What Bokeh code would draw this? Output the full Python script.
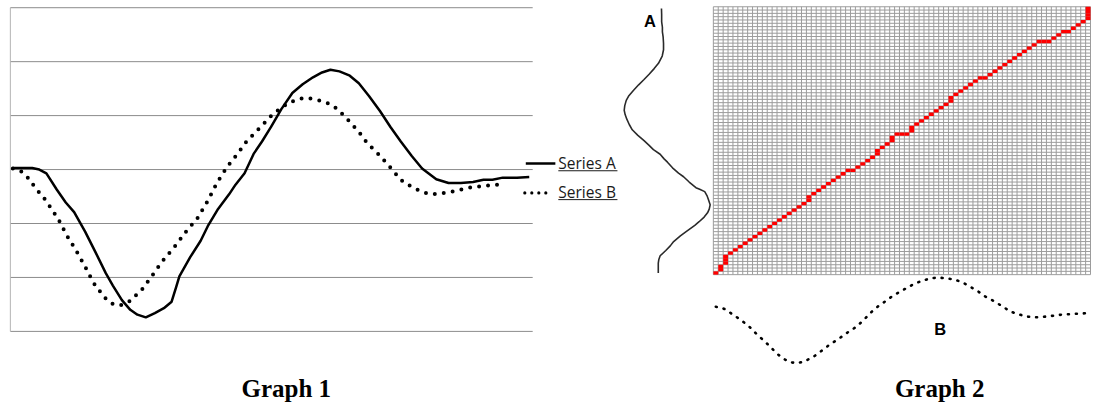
from bokeh.plotting import figure
from bokeh.models import Range1d
from bokeh.core.properties import value
from bokeh.embed import file_html
from bokeh.resources import INLINE

# ---------------- data ----------------
# Series A (solid): sample index t (0..80) and value v (in gridline units)
a_t = [0.0, 3.0, 4.1, 5.2, 6.8, 8.2, 9.5, 11.2, 12.8, 14.4, 15.5, 16.9, 18.2, 19.3, 20.6,
       22.0, 23.4, 24.6, 25.3, 25.8, 27.5, 29.1, 30.2, 31.8, 33.5, 34.5, 35.9, 37.3, 38.6,
       40.0, 41.6, 43.3, 44.9, 46.5, 47.9, 49.2, 50.6, 52.2, 53.6, 55.2, 56.9, 58.5, 60.1,
       61.8, 63.4, 65.6, 67.5, 69.4, 71.3, 72.9, 74.3, 75.9, 78.1, 80.0]
a_v = [0.03, 0.03, 0.0, -0.07, -0.37, -0.61, -0.79, -1.15, -1.53, -1.92, -2.15, -2.42, -2.60,
       -2.69, -2.74, -2.66, -2.57, -2.45, -2.18, -1.98, -1.62, -1.32, -1.05, -0.73, -0.46,
       -0.28, -0.07, 0.29, 0.52, 0.79, 1.12, 1.42, 1.58, 1.71, 1.80, 1.85, 1.82, 1.74, 1.60,
       1.36, 1.08, 0.79, 0.52, 0.25, 0.02, -0.18, -0.25, -0.25, -0.23, -0.19, -0.19, -0.15,
       -0.15, -0.14]
# Series B (dotted): sample index t (0..76) and value v
b_t = [0.0, 1.4, 2.4, 3.5, 4.9, 6.0, 7.1, 8.4, 9.8, 11.2, 12.5, 14.2, 15.2, 16.6, 18.0, 18.8,
       19.9, 21.5, 23.1, 25.0, 26.9, 28.6, 30.2, 31.6, 33.2, 34.8, 36.2, 38.4, 40.3, 42.4,
       43.8, 45.2, 46.5, 47.9, 49.2, 50.3, 52.0, 53.6, 54.9, 56.6, 58.2, 60.1, 61.2, 62.6,
       63.8, 65.0, 67.7, 70.5, 73.2, 76.0]
b_v = [0.02, -0.04, -0.16, -0.34, -0.54, -0.73, -0.93, -1.23, -1.50, -1.80, -2.10, -2.37,
       -2.48, -2.52, -2.45, -2.36, -2.24, -1.98, -1.71, -1.44, -1.14, -0.90, -0.58, -0.25,
       0.05, 0.29, 0.52, 0.79, 1.03, 1.21, 1.29, 1.33, 1.31, 1.27, 1.21, 1.12, 0.91, 0.70,
       0.49, 0.29, 0.08, -0.19, -0.28, -0.37, -0.43, -0.46, -0.42, -0.34, -0.30, -0.27]

g1_levels = [-3, -2, -1, 0, 1, 2, 3]          # Graph 1 horizontal gridlines
n_cols = 77                                     # cost-matrix columns (samples of B)
n_rows = 81                                     # cost-matrix rows (samples of A)
# warping path read cell by cell: D = diagonal, H = right, V = up
warp_moves = ("DV" + "DVV" + "D" * 16 + "DV" + "D" * 8 + "H" + "D" * 5 + "V" + "D" * 3 + "V"
              + "DHH" + "DV" + "D" * 8 + "V" + "D" * 6 + "H" + "D" * 11 + "HH" + "D" * 3
              + "H" + "D" * 4 + "VVV")
legend_labels = ["Series A", "Series B"]
titles = ["Graph 1", "Graph 2"]
axis_letters = ["A", "B"]

path_c, path_r = [0], [0]
for m in warp_moves:
    c, r = path_c[-1], path_r[-1]
    if m == "D":
        c, r = c + 1, r + 1
    elif m == "H":
        c += 1
    else:
        r += 1
    path_c.append(c)
    path_r.append(r)

# ---------------- figure: default ranges span the 1107x420 layout box ----------------
W, H = 1091, 404
LX, LY = 1107, 420
p = figure(width=W, height=H, x_range=Range1d(0, LX), y_range=Range1d(LY, 0),
           output_backend="svg", toolbar_location=None, x_axis_type=None, y_axis_type=None,
           min_border=0)
p.outline_line_color = None
p.background_fill_color = "white"
p.border_fill_color = "white"


def xr(va, pa, vb, pb):
    s = (vb - va) / (pb - pa)
    return Range1d(start=va + (0 - pa) * s, end=va + (LX - pa) * s)


def yr(va, pa, vb, pb):
    s = (vb - va) / (pb - pa)
    return Range1d(start=va + (LY - pa) * s, end=va + (0 - pa) * s)


p.extra_x_ranges = {
    "g1x": xr(0, 12.5, 80, 536.5),        # graph 1 time axis
    "gx": xr(0, 723.3, n_cols, 1106),     # cost matrix columns
    "avx": xr(0, 668, 1, 649),            # series A values, rotated
}
p.extra_y_ranges = {
    "g1y": yr(-3, 344, 3, 7.5),           # graph 1 value axis
    "gy": yr(0, 285, n_rows, 6.5),        # cost matrix rows
    "bvy": yr(0, 318.8, 1, 295.7),        # series B values under the matrix
}

# ---------------- Graph 1 ----------------
p.segment(x0=[10] * len(g1_levels), x1=[540] * len(g1_levels), y0=g1_levels, y1=g1_levels,
          y_range_name="g1y", line_color="#8c8c8c", line_width=1)
p.segment(x0=[10], x1=[10], y0=[min(g1_levels)], y1=[max(g1_levels)], y_range_name="g1y",
          line_color="#b4b4b4", line_width=1)
p.line(a_t, a_v, x_range_name="g1x", y_range_name="g1y", line_color="black",
       line_width=2.5, line_join="round")
p.line(b_t, b_v, x_range_name="g1x", y_range_name="g1y", line_color="black",
       line_width=4, line_dash="0 9", line_cap="round")

# legend
p.segment(x0=[533], x1=[563], y0=[169.5], y1=[169.5], line_color="black", line_width=2.4)
p.line([532, 554], [200, 200], line_color="black", line_width=3.2, line_dash="0 7",
       line_cap="round")
p.text(x=[566, 566], y=[169, 199], text=legend_labels, text_font=value("Open Sans"),
       text_font_size="15.5px", text_color="#1a1a1a", text_baseline="middle")
p.segment(x0=[566, 566], x1=[626, 626], y0=[177, 207], y1=[177, 207],
          line_color="#1a1a1a", line_width=1)

# ---------------- Graph 2 ----------------
gc = list(range(n_cols + 1))
gr = list(range(n_rows + 1))
p.segment(x0=gc, x1=gc, y0=[0] * len(gc), y1=[n_rows] * len(gc), x_range_name="gx",
          y_range_name="gy", line_color="#9c9c9c", line_width=1)
p.segment(x0=[0] * len(gr), x1=[n_cols] * len(gr), y0=gr, y1=gr, x_range_name="gx",
          y_range_name="gy", line_color="#9c9c9c", line_width=1)
p.quad(left=path_c, right=[c + 1 for c in path_c], bottom=path_r,
       top=[r + 1 for r in path_r], x_range_name="gx", y_range_name="gy",
       fill_color="#ff0000", line_color=None)

# series A along the rows (left of the matrix)
p.line(a_v, [t + 0.5 for t in a_t], x_range_name="avx", y_range_name="gy",
       line_color="#2a2a2a", line_width=1.6, line_join="round")
# series B along the columns (under the matrix)
p.line([t + 0.5 for t in b_t], b_v, x_range_name="gx", y_range_name="bvy",
       line_color="black", line_width=2.6, line_dash="1 7", line_cap="round")

p.text(x=[659, 953.5], y=[21, 342], text=axis_letters, text_font=value("Liberation Sans"),
       text_font_style="bold", text_font_size="16.5px", text_color="black",
       text_align="center", text_baseline="middle")

# ---------------- titles ----------------
p.text(x=[290, 953], y=[403, 403], text=titles, text_font=value("Liberation Serif"),
       text_font_style="bold", text_font_size="25px", text_color="black",
       text_align="center", text_baseline="middle")

open("out.html", "w").write(file_html(p, INLINE))
